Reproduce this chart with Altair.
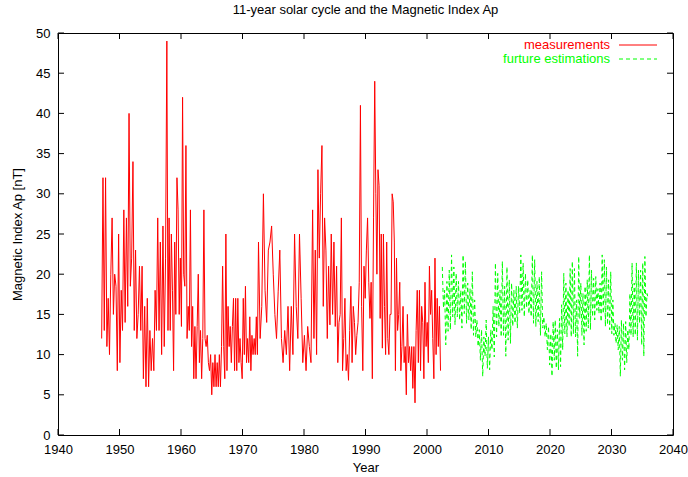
import altair as alt
import numpy as np
import pandas as pd

FONT = "Liberation Sans"
RED = "#ff0000"
GREEN = "#00ff00"
W, H = 615, 402
TICK = 6

year_ticks = list(range(1940, 2041, 10))
ap_ticks = list(range(0, 51, 5))

# Measured Ap index [nT], stored as consecutive stretches; neighbouring
# stretches share their end point.
ap_1947_1957 = [12, 32, 13, 32, 11, 17, 10, 20, 27, 15, 20, 18.5, 8, 25, 9, 18, 13,
                28, 14, 27, 16, 40, 18.5, 22, 34, 13, 23, 12, 15, 21, 13, 21, 7, 16,
                6, 17, 6, 13, 8, 12, 8, 18, 13, 27, 13, 24, 10, 26, 11, 22, 49]
ap_1957_1965 = [49, 13, 27, 13, 25, 18, 8, 24, 15, 32, 28, 15, 22, 13.5, 42, 20,
                18.5, 36, 12, 16, 13, 28, 11, 16, 7, 13.5, 7, 13.5, 20, 9, 13, 7,
                12, 28, 12, 11, 12.4, 9, 8, 10, 5]
ap_1965_1972 = [5, 9, 6, 10, 6, 9, 6, 10, 6, 11, 21, 11, 7, 25, 8, 16, 11, 13.5, 9,
                13.5, 17, 8, 17, 8, 17, 9, 12, 9, 7, 17, 10, 18.5, 9, 12, 9, 14.7,
                8, 12.4, 10, 12, 10, 14.7, 10, 24]
ap_1972_1981 = [24, 12, 16, 30, 18, 14, 23, 24, 26, 20, 15, 12, 17.8, 23, 12, 9, 13,
                10, 16, 8, 16, 10, 25, 16, 12, 25, 17, 9, 12.4, 8, 13.5, 11, 9, 28]
ap_1981_1985 = [28, 12, 23, 10, 33, 22, 30, 36, 16, 27, 23, 12, 21, 13.7, 25, 15,
                24, 13.5, 21]
ap_1985_1991 = [21, 9, 14, 15, 27, 8, 12, 17, 8, 10, 6.8, 13, 18.5, 9, 16, 14, 10,
                12.4, 14, 19, 41, 16, 8, 21, 17, 23, 27, 19, 14.5, 19, 7, 27, 44]
ap_1991_1998 = [44, 30, 20, 33, 31, 14.5, 25, 10.8, 25, 16, 10, 24, 12, 10, 15, 15,
                30, 29, 24, 8, 22, 13, 15, 19, 8, 11, 16, 9, 11, 5, 15, 9, 11, 8,
                11, 5.8, 11, 4]
ap_1998_2002 = [4, 13, 18, 9, 18, 8, 16, 14, 7, 19, 11, 14, 9, 21, 15, 18, 12, 7,
                22, 10, 17, 11, 16, 8]

measured_stretches = [
    (1947.1, 1957.7, ap_1947_1957),
    (1957.7, 1965.0, ap_1957_1965),
    (1965.0, 1972.6, ap_1965_1972),
    (1972.6, 1981.4, ap_1972_1981),
    (1981.4, 1985.3, ap_1981_1985),
    (1985.3, 1991.5, ap_1985_1991),
    (1991.5, 1998.05, ap_1991_1998),
    (1998.05, 2002.2, ap_1998_2002),
]

# Estimated Ap index [nT] for the coming cycles
est_2002_2020 = [20.9, 15.8, 18.0, 11.2, 19.1, 12.9, 20.5, 13.1, 22.4, 14.7, 20.9,
                 13.7, 20.1, 14.7, 19.1, 14.3, 18.0, 13.3, 22.4, 15.1, 21.6, 13.9,
                 18.9, 14.3, 18.2, 13.1, 20.3, 12.4, 16.8, 12.2, 14.3, 11.0, 13.1,
                 9.3, 13.1, 7.3, 12.2, 9.8, 14.3, 8.3, 12.2, 8.1, 13.1, 10.6, 16.0,
                 9.7, 21.4, 12.2, 20.1, 13.5, 18.0, 12.2, 21.6, 12.4, 18.5, 9.8,
                 20.9, 11.8, 19.3, 11.4, 18.9, 13.5, 18.0, 13.9, 18.5, 13.3, 18.5,
                 15.1, 22.4, 15.5, 21.4, 14.7, 20.1, 15.8, 19.3, 15.1, 18.0, 14.7,
                 22.4, 13.9, 21.8, 13.5, 19.1, 14.1, 19.7, 12.4, 20.3, 13.3, 14.7,
                 12.2, 13.9, 10.6, 13.5, 8.7, 12.6, 7.3, 14.1, 9.3]
est_2020_2036 = [14.3, 8.3, 13.1, 8.1, 14.5, 8.5, 16.2, 10.6, 20.1, 12.6, 18.9, 12.2,
                 18.0, 13.5, 20.7, 12.2, 21.6, 12.6, 20.7, 12.2, 16.8, 9.8, 22.2,
                 14.5, 18.9, 12.4, 17.6, 11.2, 18.5, 12.9, 19.3, 13.3, 22.4, 13.1,
                 20.5, 14.7, 19.5, 14.3, 19.7, 15.5, 18.2, 15.1, 18.9, 14.1, 22.4,
                 15.1, 21.8, 13.5, 20.9, 13.7, 19.3, 13.1, 20.3, 12.6, 16.8, 12.4,
                 13.9, 11.4, 13.7, 10.6, 13.5, 7.3, 14.3, 9.3, 13.9, 8.1, 14.1, 9.0,
                 13.1, 10.6, 17.6, 12.4, 21.4, 12.2, 18.9, 12.4, 21.4, 11.8, 20.5,
                 13.9, 20.5, 11.2, 21.4, 9.8, 22.2, 14.7, 17.6, 17]

estimated_stretches = [
    (2002.49, 2020.70, est_2002_2020),
    (2020.85, 2035.95, est_2020_2036),
]


def stretch_frame(stretches, shared_ends):
    parts = []
    for i, (start, end, vals) in enumerate(stretches):
        yrs = np.linspace(start, end, len(vals))
        vals = list(vals)
        if shared_ends and i > 0:
            yrs, vals = yrs[1:], vals[1:]
        parts.append(pd.DataFrame({"year": yrs, "ap": vals}))
    return pd.concat(parts, ignore_index=True)


measured = stretch_frame(measured_stretches, True)
estimated = stretch_frame(estimated_stretches, False)

x_scale = alt.Scale(domain=[1940, 2040], nice=False, zero=False)
y_scale = alt.Scale(domain=[0, 50], nice=False)
x_axis = alt.Axis(values=year_ticks, format="d", title="Year", labelPadding=8,
                  titlePadding=5, labelOverlap=False, labelFlush=False)
y_axis = alt.Axis(values=ap_ticks, title="Magnetic Index Ap [nT]", labelPadding=8,
                  titlePadding=11, labelOverlap=False)

X = alt.X("year:Q", scale=x_scale, axis=x_axis)
Y = alt.Y("ap:Q", scale=y_scale, axis=y_axis)

meas_line = alt.Chart(measured).mark_line(color=RED, strokeWidth=1).encode(x=X, y=Y)
est_line = alt.Chart(estimated).mark_line(
    color=GREEN, strokeWidth=1, strokeDash=[4, 3]).encode(x=X, y=Y)

xt = pd.DataFrame({"year": year_ticks})
yt = pd.DataFrame({"ap": ap_ticks})
tick_style = dict(color="black", strokeWidth=1)

bottom_ticks = alt.Chart(xt).mark_rule(**tick_style).encode(
    x=X, y=alt.value(H), y2=alt.value(H - TICK))
top_ticks = alt.Chart(xt).mark_rule(**tick_style).encode(
    x=X, y=alt.value(0), y2=alt.value(TICK))
left_ticks = alt.Chart(yt).mark_rule(**tick_style).encode(
    y=Y, x=alt.value(0), x2=alt.value(TICK))
right_ticks = alt.Chart(yt).mark_rule(**tick_style).encode(
    y=Y, x=alt.value(W), x2=alt.value(W - TICK))

one = alt.Data(values=[{}])
key_text_x = 552
key_line_x1, key_line_x2 = 561, 599

key_meas_text = alt.Chart(one).mark_text(
    text="measurements", align="right", baseline="middle", color=RED,
    font=FONT, fontSize=13).encode(x=alt.value(key_text_x), y=alt.value(12))
key_est_text = alt.Chart(one).mark_text(
    text="furture estimations", align="right", baseline="middle", color=GREEN,
    font=FONT, fontSize=13).encode(x=alt.value(key_text_x), y=alt.value(26))
key_meas_line = alt.Chart(one).mark_rule(color=RED, strokeWidth=1).encode(
    x=alt.value(key_line_x1), x2=alt.value(key_line_x2), y=alt.value(12))
key_est_line = alt.Chart(one).mark_rule(
    color=GREEN, strokeWidth=1, strokeDash=[4, 3]).encode(
    x=alt.value(key_line_x1), x2=alt.value(key_line_x2), y=alt.value(26))

chart = alt.layer(
    meas_line, est_line,
    bottom_ticks, top_ticks, left_ticks, right_ticks,
    key_meas_text, key_est_text, key_meas_line, key_est_line,
).properties(
    width=W,
    height=H,
    background="white",
    autosize=alt.AutoSizeParams(type="none"),
    padding={"left": 58, "top": 33, "right": 15, "bottom": 42},
    title=alt.TitleParams(
        "11-year solar cycle and the Magnetic Index Ap",
        font=FONT, fontSize=13, fontWeight="normal", color="black",
        anchor="middle", offset=10),
).configure_view(
    stroke="black", strokeWidth=1
).configure_axis(
    labelFont=FONT, labelFontSize=13, labelColor="black",
    titleFont=FONT, titleFontSize=13, titleFontWeight="normal", titleColor="black",
    domain=False, ticks=False, grid=False,
)

chart.save("out.html", embed_options={"renderer": "svg", "actions": False})
